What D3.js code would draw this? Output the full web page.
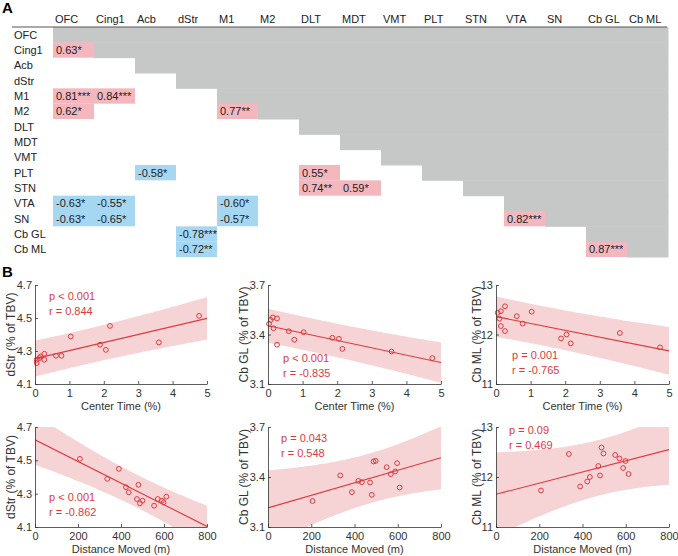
<!DOCTYPE html>
<html><head><meta charset="utf-8">
<script src="https://cdn.jsdelivr.net/npm/d3@7"></script>
<style>
body{margin:0;background:#fff}
text{font-family:"Liberation Sans",Arial,Helvetica,sans-serif}
</style>
</head><body>
<svg id="c" width="678" height="556"></svg>
<script>
// ---------- Panel A data ----------
const regions = ["OFC","Cing1","Acb","dStr","M1","M2","DLT","MDT","VMT","PLT","STN","VTA","SN","Cb GL","Cb ML"];
const corrRow = ["Cing1","M1","M1","M2","M2","PLT","PLT","STN","STN","VTA","VTA","VTA","SN","SN","SN","SN","Cb GL","Cb ML","Cb ML"];
const corrCol = ["OFC","OFC","Cing1","OFC","M1","Acb","DLT","DLT","MDT","OFC","Cing1","M1","OFC","Cing1","M1","VTA","dStr","dStr","Cb GL"];
const corrVal = [0.63,0.81,0.84,0.62,0.77,-0.58,0.55,0.74,0.59,-0.63,-0.55,-0.60,-0.63,-0.65,-0.57,0.82,-0.78,-0.72,0.87];
const corrSig = ["*","***","***","*","**","*","*","**","*","*","*","*","*","*","*","***","***","**","***"];

// ---------- Panel B data ----------
const ct_dStr_x = [0.05,0.05,0.13,0.16,0.27,0.27,0.61,0.77,1.04,1.89,2.06,2.18,3.60,4.77];
const ct_dStr_y = [4.247,4.227,4.257,4.267,4.283,4.247,4.271,4.271,4.388,4.338,4.307,4.452,4.352,4.513];
const ct_gl_x = [0.03,0.08,0.14,0.16,0.26,0.26,0.60,0.76,1.03,1.86,2.05,2.15,3.57,4.75];
const ct_gl_y = [3.464,3.489,3.503,3.438,3.497,3.338,3.420,3.368,3.414,3.380,3.374,3.313,3.297,3.257];
const ct_ml_x = [0.05,0.10,0.14,0.14,0.26,0.26,0.60,0.77,1.03,1.88,2.04,2.16,3.58,4.74];
const ct_ml_y = [12.44,12.32,12.47,12.17,12.57,12.07,12.37,12.22,12.46,11.92,12.00,11.82,12.03,11.74];
const dm_dStr_x = [209,336,390,423,436,481,474,488,500,554,571,590,598,611];
const dm_dStr_y = [4.509,4.389,4.449,4.339,4.308,4.353,4.268,4.242,4.258,4.228,4.268,4.258,4.248,4.282];
const dm_gl_x = [206,334,388,418,434,472,480,488,498,549,568,588,597,609];
const dm_gl_y = [3.256,3.409,3.309,3.377,3.369,3.367,3.293,3.493,3.497,3.459,3.417,3.433,3.483,3.337];
const dm_ml_x = [208,337,389,422,434,473,481,488,497,551,571,588,599,613];
const dm_ml_y = [11.73,12.46,11.81,11.91,12.00,12.22,12.03,12.59,12.47,12.44,12.37,12.18,12.32,12.06];

const ctTicks = [0,1,2,3,4,5];
const dmTicks = [0,200,400,600,800];
const dStrTicks = [4.1,4.3,4.5,4.7];
const glTicks = [3.1,3.4,3.7];
const mlTicks = [11,12,13];
const xLabels = ["Center Time (%)","Distance Moved (m)"];
const yLabels = ["dStr (% of TBV)","Cb GL (% of TBV)","Cb ML (% of TBV)"];
const pTexts = ["p < 0.001","p < 0.001","p = 0.001","p < 0.001","p = 0.043","p = 0.09"];
const rTexts = ["r = 0.844","r = -0.835","r = -0.765","r = -0.862","r = 0.548","r = 0.469"];

const svg = d3.select("#c");
const PINK = "#f4b7bd", BLUE = "#a5d7f2", GREY = "#c6c7c7";
const RED = "#de3a3e";

// ---------- Panel A ----------
svg.append("text").attr("x",2).attr("y",13).attr("font-size",15).attr("font-weight","bold").text("A");
const xM = d3.scaleBand().domain(regions).range([53, 668]);
const yM = d3.scaleBand().domain(regions).range([27, 257]);
const gA = svg.append("g");
const greyCells = [];
regions.forEach((r,i)=>regions.forEach((c,j)=>{ if(j>=i) greyCells.push([r,c]); }));
gA.selectAll("rect.g").data(greyCells).join("rect")
  .attr("x",d=>xM(d[1])).attr("y",d=>yM(d[0]))
  .attr("width",xM.bandwidth()+0.5).attr("height",yM.bandwidth()+0.5)
  .attr("fill",GREY);
const cells = corrVal.map((v,i)=>({r:corrRow[i],c:corrCol[i],v:v,s:corrSig[i]}));
gA.selectAll("rect.s").data(cells).join("rect")
  .attr("x",d=>xM(d.c)).attr("y",d=>yM(d.r))
  .attr("width",xM.bandwidth()).attr("height",yM.bandwidth())
  .attr("fill",d=>d.v>0?PINK:BLUE);
gA.selectAll("text.v").data(cells).join("text")
  .attr("x",d=>xM(d.c)+3).attr("y",d=>yM(d.r)+yM.bandwidth()/2+4)
  .attr("font-size",11).attr("fill","#222")
  .text(d=>d.v.toFixed(2)+d.s);
gA.selectAll("text.rl").data(regions).join("text")
  .attr("x",14).attr("y",d=>yM(d)+yM.bandwidth()/2+4)
  .attr("font-size",11).attr("fill","#222").text(d=>d);
gA.selectAll("text.cl").data(regions).join("text")
  .attr("x",d=>xM(d)+2).attr("y",23)
  .attr("font-size",11).attr("fill","#222").text(d=>d);
gA.append("line").attr("x1",12).attr("x2",667).attr("y1",27).attr("y2",27)
  .attr("stroke","#555").attr("stroke-width",1.2);

// ---------- Panel B ----------
svg.append("text").attr("x",2).attr("y",277).attr("font-size",15).attr("font-weight","bold").text("B");
const colL = [35,268,496], colR = [207,441,669];
const rowT = [285,427], rowB = [384,527];
const annot = [[14,15,30],[15,77,92],[16,74,89],[14,74,89],[13,15,30],[13,7,22]];
const panels = [
  {x:ct_dStr_x,y:ct_dStr_y,xd:[0,5],xt:ctTicks,yd:[4.1,4.7],yt:dStrTicks,xl:0,yl:0},
  {x:ct_gl_x,y:ct_gl_y,xd:[0,5],xt:ctTicks,yd:[3.1,3.7],yt:glTicks,xl:0,yl:1},
  {x:ct_ml_x,y:ct_ml_y,xd:[0,5],xt:ctTicks,yd:[11,13],yt:mlTicks,xl:0,yl:2},
  {x:dm_dStr_x,y:dm_dStr_y,xd:[0,800],xt:dmTicks,yd:[4.1,4.7],yt:dStrTicks,xl:1,yl:0},
  {x:dm_gl_x,y:dm_gl_y,xd:[0,800],xt:dmTicks,yd:[3.1,3.7],yt:glTicks,xl:1,yl:1},
  {x:dm_ml_x,y:dm_ml_y,xd:[0,800],xt:dmTicks,yd:[11,13],yt:mlTicks,xl:1,yl:2}
];
const tcrit = 2.1788; // t(0.975, df=12)
panels.forEach((p,k)=>{
  const ci = k%3, ri = Math.floor(k/3);
  const L = colL[ci], R = colR[ci], T = rowT[ri], B = rowB[ri];
  const x = d3.scaleLinear().domain(p.xd).range([L,R]);
  const y = d3.scaleLinear().domain(p.yd).range([B,T]);
  const g = svg.append("g");
  const cid = "clip"+k;
  g.append("clipPath").attr("id",cid).append("rect")
    .attr("x",L).attr("y",T).attr("width",R-L).attr("height",B-T);
  const n = p.x.length;
  const mx = d3.mean(p.x), my = d3.mean(p.y);
  let sxx=0, sxy=0;
  for(let i=0;i<n;i++){ sxx+=(p.x[i]-mx)**2; sxy+=(p.x[i]-mx)*(p.y[i]-my); }
  const b = sxy/sxx, a = my-b*mx;
  let sse=0; for(let i=0;i<n;i++){ sse+=(p.y[i]-(a+b*p.x[i]))**2; }
  const s = Math.sqrt(sse/(n-2));
  const xs = d3.range(0,101).map(i=>p.xd[0]+(p.xd[1]-p.xd[0])*i/100);
  const band = xs.map(xv=>{
    const yh=a+b*xv, h=tcrit*s*Math.sqrt(1+1/n+(xv-mx)**2/sxx);
    return {x:xv,lo:yh-h,hi:yh+h};
  });
  const cg = g.append("g").attr("clip-path",`url(#${cid})`);
  cg.append("path").datum(band)
    .attr("d",d3.area().x(d=>x(d.x)).y0(d=>y(d.lo)).y1(d=>y(d.hi)))
    .attr("fill","#f6d3d4");
  cg.append("line").attr("x1",x(p.xd[0])).attr("x2",x(p.xd[1]))
    .attr("y1",y(a+b*p.xd[0])).attr("y2",y(a+b*p.xd[1]))
    .attr("stroke",RED).attr("stroke-width",1.1);
  g.selectAll("circle").data(p.x.map((v,i)=>[v,p.y[i]])).join("circle")
    .attr("cx",d=>x(d[0])).attr("cy",d=>y(d[1])).attr("r",2.4)
    .attr("fill","none").attr("stroke",RED).attr("stroke-width",1);
  const ax = g.append("g").attr("transform",`translate(0,${B})`)
    .call(d3.axisBottom(x).tickValues(p.xt).tickSizeInner(-3).tickSizeOuter(0).tickPadding(5).tickFormat(d3.format("d")));
  const ay = g.append("g").attr("transform",`translate(${L},0)`)
    .call(d3.axisLeft(y).tickValues(p.yt).tickSizeInner(-3).tickSizeOuter(0).tickPadding(3).tickFormat(v=>String(v)));
  [ax,ay].forEach(a2=>{
    a2.select(".domain").attr("stroke","#333").attr("stroke-width",0.8);
    a2.selectAll(".tick line").attr("stroke","#333").attr("stroke-width",0.8);
    a2.selectAll(".tick text").attr("font-size",11).attr("fill","#333")
      .attr("font-family",'"Liberation Sans",Arial,Helvetica,sans-serif');
  });
  g.append("text").attr("x",(L+R)/2).attr("y",B+26).attr("text-anchor","middle")
    .attr("font-size",11).attr("fill","#333").text(xLabels[p.xl]);
  const yo = p.yl===2 ? 15 : 20;
  g.append("text").attr("transform",`translate(${L-yo},${(T+B)/2}) rotate(-90)`)
    .attr("text-anchor","middle").attr("font-size",12).attr("fill","#333").text(yLabels[p.yl]);
  const an = annot[k];
  g.append("text").attr("x",L+an[0]).attr("y",T+an[1]).attr("font-size",11).attr("fill",RED).text(pTexts[k]);
  g.append("text").attr("x",L+an[0]).attr("y",T+an[2]).attr("font-size",11).attr("fill",RED).text(rTexts[k]);
});
</script>
</body></html>
